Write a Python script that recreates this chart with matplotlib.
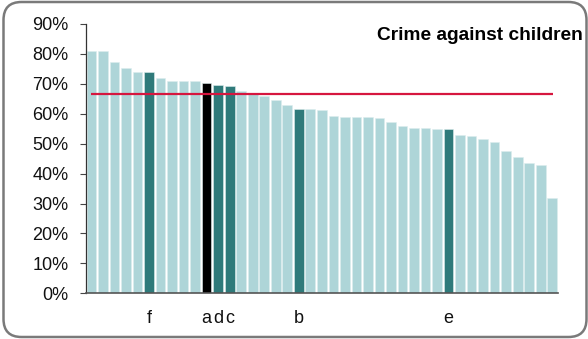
import matplotlib
matplotlib.use("Agg")
import matplotlib.pyplot as plt
from matplotlib.patches import FancyBboxPatch
from matplotlib.transforms import IdentityTransform
import numpy as np

plt.rcParams['font.family'] = ['Liberation Sans', 'DejaVu Sans']

values = [81.0, 81.0, 77.4, 75.2, 73.8, 73.8, 71.9, 71.1, 71.1, 71.1,
          70.3, 69.6, 69.3, 67.7, 66.5, 65.8, 64.7, 62.8, 61.7, 61.6,
          61.2, 59.3, 59.0, 59.0, 58.8, 58.7, 57.2, 56.0, 55.3, 55.3,
          55.0, 54.9, 53.0, 52.7, 51.7, 50.6, 47.4, 45.6, 43.6, 43.0,
          32.0]
labels = [''] * len(values)
highlight = {5: ('f', 'dark'), 10: ('a', 'black'), 11: ('d', 'dark'),
             12: ('c', 'dark'), 18: ('b', 'dark'), 31: ('e', 'dark')}
for i, (lab, _) in highlight.items():
    labels[i] = lab
average = 66.6
yticks = [0, 10, 20, 30, 40, 50, 60, 70, 80, 90]
title = "Crime against children"

col_light = '#AED5D8'
col_dark = '#2F7A7A'
col_black = '#000000'
colors = []
for i in range(len(values)):
    if i in highlight:
        colors.append(col_black if highlight[i][1] == 'black' else col_dark)
    else:
        colors.append(col_light)

W, H = 588, 339
fig = plt.figure(figsize=(W / 100, H / 100), dpi=100)
ax = fig.add_axes([85.7 / W, 1 - 293.3 / H, (558 - 85.7) / W, (293.3 - 24) / H])

x = np.arange(len(values))
ax.bar(x, values, width=0.84, color=colors, edgecolor='#DDEEEE', linewidth=0.4)
ax.hlines(average, -0.07, 40.05, color='#D6163F', linewidth=1.6, zorder=3)

ax.set_xlim(-0.5, len(values) - 0.5)
ax.set_ylim(0, 90)
ax.set_yticks(yticks)
ax.set_yticklabels([f"{t}%" for t in yticks], fontsize=13, color='#111111')
ax.set_xticks(x)
ax.set_xticklabels(labels, fontsize=13, color='#111111')
ax.tick_params(axis='x', length=0, pad=12)
ax.tick_params(axis='y', length=4.5, width=0.8, color='#444444', pad=8)

for s in ['top', 'right']:
    ax.spines[s].set_visible(False)
ax.spines['left'].set_color('#333333')
ax.spines['bottom'].set_color('#555555')
ax.spines['left'].set_linewidth(0.9)
ax.spines['bottom'].set_linewidth(1.2)

fig.text(583 / W, 1 - 35.5 / H, title, ha='right', va='center',
         fontsize=13.8, fontweight='bold', color='#000000')

box = FancyBboxPatch((3.5 + 18, 2 + 18), (586.5 - 3.5) - 36, (337 - 2) - 36,
                     boxstyle="round,pad=18", transform=IdentityTransform(),
                     facecolor='none', edgecolor='#7a7a7a', linewidth=1.8)
fig.patches.append(box)

fig.savefig('out.png', dpi=100)
